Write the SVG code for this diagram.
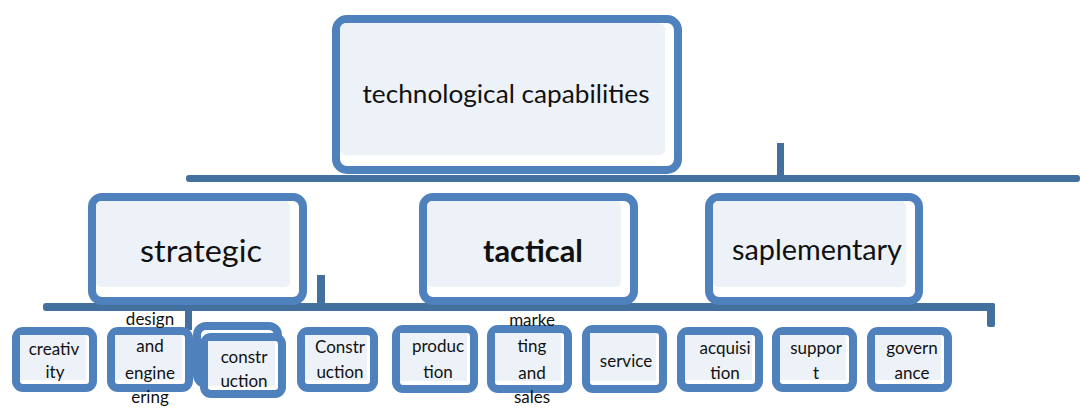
<svg xmlns="http://www.w3.org/2000/svg" width="1080" height="408" viewBox="0 0 1080 408">
  <style>
    .box { fill: #ffffff; stroke: #4f81bd; stroke-width: 8; }
    .in { fill: #edf2f9; stroke: none; }
    .bar { fill: #44709f; }
    .t { font-family: Lato, "Open Sans", "Liberation Sans", sans-serif; fill: #111111; text-anchor: middle; }
    .big { font-size: 25px; }
    .mid { font-size: 31px; }
    .sm { font-size: 17px; }
  </style>
  <defs>
    <clipPath id="clipTop"><rect x="0" y="314" width="1080" height="94"/></clipPath>
  </defs>
  <rect width="1080" height="408" fill="#ffffff"/>

  <g id="connectors">
    <rect class="bar" x="186" y="175" width="894" height="7" rx="3"/>
    <rect class="bar" x="777" y="143" width="7" height="34"/>
    <rect class="bar" x="43" y="303" width="952" height="8" rx="3"/>
    <rect class="bar" x="317" y="275" width="8" height="30"/>
    <rect class="bar" x="987" y="303" width="8" height="24" rx="2"/>
    <rect class="bar" x="185" y="308" width="7" height="22"/>
  </g>

  <g id="technological-capabilities">
    <rect class="box" x="336" y="19" width="342" height="151" rx="11"/>
    <rect class="in" x="340" y="23" width="325" height="132" rx="6"/>
    <text class="t big" x="506" y="103" textLength="287" lengthAdjust="spacingAndGlyphs">technological capabilities</text>
  </g>

  <g id="strategic">
    <rect class="box" x="92" y="197" width="211" height="104" rx="10"/>
    <rect class="in" x="96" y="201" width="194" height="86" rx="5"/>
    <text class="t mid" x="201" y="262" textLength="122" lengthAdjust="spacingAndGlyphs">strategic</text>
  </g>

  <g id="tactical">
    <rect class="box" x="423" y="197" width="211" height="104" rx="10"/>
    <rect class="in" x="427" y="201" width="194" height="86" rx="5"/>
    <text class="t mid" x="533" y="262" font-weight="bold" textLength="100" lengthAdjust="spacingAndGlyphs">tactical</text>
  </g>

  <g id="saplementary">
    <rect class="box" x="709" y="197" width="210" height="104" rx="10"/>
    <rect class="in" x="713" y="201" width="193" height="86" rx="5"/>
    <text class="t" x="817" y="260" font-size="28" textLength="170" lengthAdjust="spacingAndGlyphs">saplementary</text>
  </g>

  <g id="creativity">
    <rect class="box" x="16" y="331" width="77" height="57" rx="7"/>
    <rect class="in" x="20" y="335" width="66" height="45"/>
    <text class="t sm" x="54" y="355">creativ</text>
    <text class="t sm" x="55" y="378">ity</text>
  </g>

  <g id="design-and-engineering">
    <rect class="box" x="111" y="331" width="78" height="57" rx="7"/>
    <rect class="in" x="115" y="335" width="67" height="45"/>
    <text class="t sm" x="150" y="325">design</text>
    <text class="t sm" x="150" y="352">and</text>
    <text class="t sm" x="150" y="379">engine</text>
    <text class="t sm" x="150" y="403">ering</text>
  </g>

  <g id="construction-1">
    <rect class="box" x="197" y="326" width="81" height="58" rx="9"/>
    <rect class="box" x="204" y="337" width="78" height="57" rx="7"/>
    <rect class="in" x="208" y="341" width="67" height="45"/>
    <text class="t sm" x="244" y="363">constr</text>
    <text class="t sm" x="244" y="387">uction</text>
  </g>

  <g id="construction-2">
    <rect class="box" x="301" y="331" width="73" height="57" rx="7"/>
    <rect class="in" x="305" y="335" width="62" height="45"/>
    <text class="t sm" x="340" y="353">Constr</text>
    <text class="t sm" x="340" y="378">uction</text>
  </g>

  <g id="production">
    <rect class="box" x="396" y="329" width="78" height="60" rx="7"/>
    <rect class="in" x="400" y="333" width="67" height="48"/>
    <text class="t sm" x="438" y="352">produc</text>
    <text class="t sm" x="438" y="378">tion</text>
  </g>

  <g id="marketing-and-sales">
    <rect class="box" x="491" y="329" width="77" height="60" rx="7"/>
    <rect class="in" x="495" y="333" width="66" height="48"/>
    <text class="t sm" x="532" y="326" clip-path="url(#clipTop)">marke</text>
    <text class="t sm" x="532" y="352">ting</text>
    <text class="t sm" x="532" y="379">and</text>
    <text class="t sm" x="532" y="403">sales</text>
  </g>

  <g id="service">
    <rect class="box" x="586" y="329" width="77" height="60" rx="7"/>
    <rect class="in" x="590" y="333" width="66" height="48"/>
    <text class="t sm" x="626" y="367">service</text>
  </g>

  <g id="acquisition">
    <rect class="box" x="681" y="331" width="78" height="57" rx="7"/>
    <rect class="in" x="685" y="335" width="67" height="45"/>
    <text class="t sm" x="725" y="354">acquisi</text>
    <text class="t sm" x="725" y="379">tion</text>
  </g>

  <g id="support">
    <rect class="box" x="776" y="331" width="77" height="57" rx="7"/>
    <rect class="in" x="780" y="335" width="66" height="45"/>
    <text class="t sm" x="816" y="354">suppor</text>
    <text class="t sm" x="816" y="379">t</text>
  </g>

  <g id="governance">
    <rect class="box" x="871" y="331" width="77" height="57" rx="7"/>
    <rect class="in" x="875" y="335" width="66" height="45"/>
    <text class="t sm" x="912" y="354">govern</text>
    <text class="t sm" x="912" y="379">ance</text>
  </g>
</svg>
